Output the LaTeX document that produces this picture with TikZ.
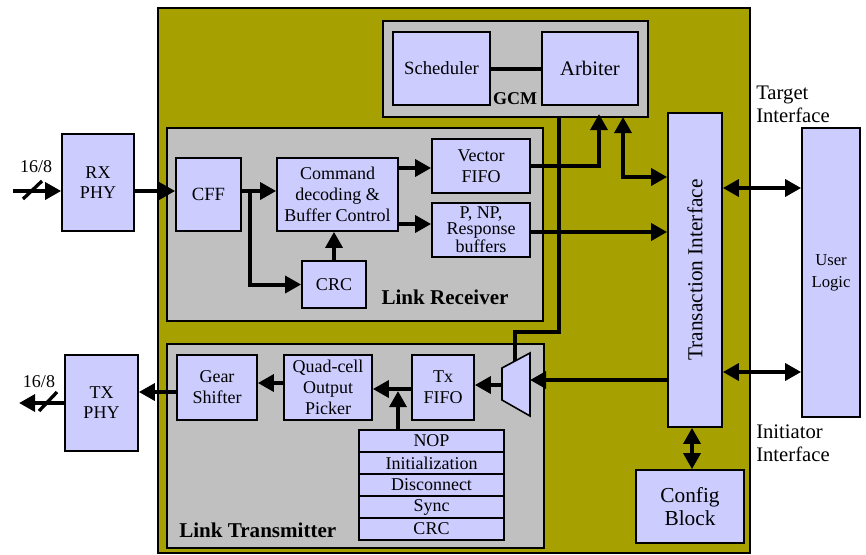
\documentclass[tikz,border=0pt]{standalone}
\usepackage{fontspec}
\setmainfont{Liberation Serif}
\usetikzlibrary{arrows.meta}
\definecolor{olv}{RGB}{166,160,0}
\definecolor{lav}{RGB}{204,204,255}
\definecolor{gry}{RGB}{192,192,192}
\newcommand{\msz}{\fontsize{13.5}{15.75}\selectfont}
\newcommand{\bsz}{\fontsize{15.8}{18}\selectfont}
\tikzset{
  blk/.style={draw=black, line width=1.2pt, fill=lav, inner sep=0pt, align=center, font=\rmfamily\msz},
  grp/.style={draw=black, line width=1.2pt, fill=gry, inner sep=0pt},
  arr/.style={line width=3pt, -{Triangle[length=12pt,width=12.5pt]}},
  darr/.style={line width=3pt, {Triangle[length=12pt,width=12.5pt]}-{Triangle[length=12pt,width=12.5pt]}},
  wire/.style={line width=3pt},
  lbl/.style={font=\rmfamily\bfseries\bsz, inner sep=0pt},
  txt/.style={font=\rmfamily\msz, inner sep=0pt, align=center},
}
% \bx[options]{name}{x1}{y1}{x2}{y2}{text}
\newcommand{\bx}[7][]{%
  \pgfmathsetmacro{\bxcx}{(#3+#5)/2}%
  \pgfmathsetmacro{\bxcy}{(#4+#6)/2}%
  \pgfmathsetmacro{\bxw}{(#5-#3)*0.75}%
  \pgfmathsetmacro{\bxh}{(#6-#4)*0.75}%
  \node[blk, minimum width=\bxw pt, minimum height=\bxh pt, #1] (#2) at (\bxcx,\bxcy) {#7};}
\begin{document}
\begin{tikzpicture}[x=0.75pt,y=-0.75pt]
\useasboundingbox (0,0) rectangle (866,554);
\fill[white] (0,0) rectangle (866,554);

% group boxes
\bx[grp, fill=olv]{core}{158}{8}{750}{553}{}
\bx[grp]{gcm}{383}{21}{648}{117}{}
\bx[grp]{rxgrp}{167}{128}{543}{321}{}
\bx[grp]{txgrp}{167}{344}{544}{548}{}

% GCM
\bx[font=\rmfamily\fontsize{14}{16}\selectfont]{sched}{393}{32}{490}{105}{Scheduler}
\bx[font=\rmfamily\fontsize{15.5}{18}\selectfont]{arb}{542}{32}{638}{105}{Arbiter}
\node[lbl, font=\rmfamily\bfseries\msz] (gcmlbl) at (515,99) {GCM};

% PHYs
\bx[font=\rmfamily\fontsize{13.5}{15}\selectfont]{rxphy}{62}{134}{134}{231}{RX\\PHY}
\bx[font=\rmfamily\fontsize{13.5}{15}\selectfont]{txphy}{65}{355}{138}{451}{TX\\PHY}

% Link receiver
\bx[font=\rmfamily\fontsize{14}{16}\selectfont]{cff}{176}{158}{241}{231}{CFF}
\bx{cmd}{277}{158}{398}{231}{Command\\decoding \&\\Buffer Control}
\bx{vfifo}{432}{139}{530}{193}{Vector\\FIFO}
\bx[font=\rmfamily\fontsize{13.5}{12}\selectfont]{pnp}{432}{203}{530}{257}{P, NP,\\Response\\buffers}
\bx{crc}{302}{261}{366}{308}{CRC}
\node[lbl] (rxlbl) at (445,297) {Link Receiver};

% Link transmitter
\bx{gear}{177}{355}{257}{420}{Gear\\Shifter}
\bx{quad}{284}{355}{372}{420}{Quad-cell\\Output\\Picker}
\bx{txfifo}{412}{355}{474}{420}{Tx\\FIFO}
\bx{st1}{359}{430}{504}{452}{NOP}
\bx{st2}{359}{452}{504}{474}{Initialization}
\bx{st3}{359}{474}{504}{496}{Disconnect}
\bx{st4}{359}{496}{504}{518}{Sync}
\bx{st5}{359}{518}{504}{540}{CRC}
\node[lbl, anchor=west] (txlbl) at (179,530) {Link Transmitter};

% mux
\draw[fill=lav, line width=1.2pt] (502,368) -- (530,353) -- (530,416) -- (502,400) -- cycle;
\coordinate (muxin) at (530,380);
\coordinate (muxout) at (502,385);

% right side
\bx{trans}{668}{113}{722}{427}{}
\node[txt, rotate=90, font=\rmfamily\fontsize{16}{18}\selectfont] (translbl) at (trans.center) {Transaction Interface};
\bx[font=\rmfamily\fontsize{12.5}{16.5}\selectfont]{user}{802}{128}{860}{417}{User\\Logic}
\bx[font=\rmfamily\fontsize{16}{17.5}\selectfont]{cfg}{636}{470}{744}{543}{Config\\Block}
\node[txt, anchor=west, align=left, font=\rmfamily\fontsize{15.5}{17.5}\selectfont] (tgt) at (756,104) {Target\\Interface};
\node[txt, anchor=west, align=left, font=\rmfamily\fontsize{15.5}{17.5}\selectfont] (ini) at (756,443) {Initiator\\Interface};

% external labels
\node[txt] (rxw) at (36,167) {16/8};
\node[txt] (txw) at (39,382) {16/8};
\coordinate (rxin) at (13,191);
\coordinate (txout) at (19,403);

% connectors
\draw[wire] (sched.east) -- (arb.west);
\draw[arr] (rxin) -- (rxin -| rxphy.west);
\draw[line width=2.5pt] (23,199) -- (42,181);
\draw[arr] (rxin -| rxphy.east) -- (rxin -| cff.west);
\coordinate (br) at (250,191);
\draw[arr] (br -| cff.east) -- (br -| cmd.west);
\draw[arr] (br) |- (crc.west);
\draw[arr] (crc.north) -- (crc.north |- cmd.south);
\coordinate (p168) at (0,168);
\draw[arr] (cmd.east |- p168) -- (vfifo.west |- p168);
\coordinate (p224) at (0,224);
\draw[arr] (cmd.east |- p224) -- (pnp.west |- p224);
\coordinate (s1) at (559,117);
\coordinate (s2) at (515,361);
\draw[wire] (s1) -- ++(0,215) -| (s2);
\coordinate (a1) at (599,114);
\draw[arr] (vfifo.east) -| (a1);
\coordinate (a2) at (623,117);
\coordinate (t177) at (0,177);
\draw[darr] (a2) |- (trans.west |- t177);
\coordinate (p232) at (0,232);
\draw[arr] (pnp.east |- p232) -- (trans.west |- p232);
\draw[arr] (trans.west |- muxin) -- (muxin);
\draw[arr] (muxout) -- (muxout -| txfifo.east);
\coordinate (p389) at (0,389);
\draw[arr] (txfifo.west |- p389) -- (quad.east |- p389);
\coordinate (j) at (398,391);
\draw[arr] (j |- st1.north) -- (j);
\coordinate (p383) at (0,383);
\draw[arr] (quad.west |- p383) -- (gear.east |- p383);
\coordinate (p392) at (0,392);
\draw[arr] (gear.west |- p392) -- (txphy.east |- p392);
\draw[arr] (txphy.west |- txout) -- (txout);
\draw[line width=2.5pt] (39,411) -- (57,392);
\coordinate (u188) at (0,188);
\coordinate (u372) at (0,372);
\draw[darr] (trans.east |- u188) -- (user.west |- u188);
\draw[darr] (trans.east |- u372) -- (user.west |- u372);
\coordinate (c692) at (692,0);
\draw[darr] (c692 |- trans.south) -- (c692 |- cfg.north);
\end{tikzpicture}
\end{document}
